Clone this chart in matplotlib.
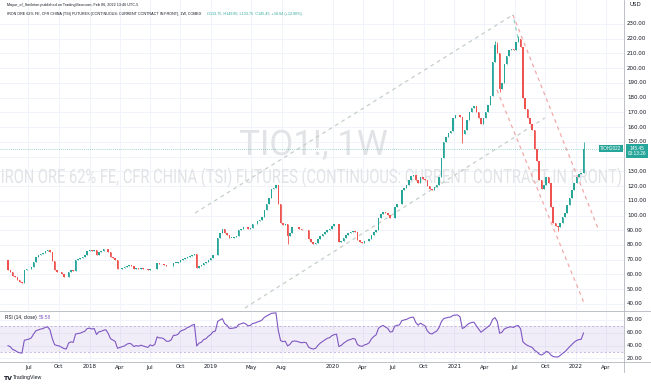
import matplotlib
matplotlib.use('Agg')
import matplotlib.pyplot as plt
import matplotlib.dates as mdates
import matplotlib.transforms as mtransforms
from matplotlib.textpath import TextPath
from matplotlib.patches import PathPatch
from matplotlib.font_manager import FontProperties
import numpy as np
import pandas as pd

plt.rcParams['font.family'] = ['DejaVu Sans']

# weekly candles, first week starting 2017-05-01
start = '2017-05-01'
first_open = 70.0
closes = [
    63, 62, 59, 58, 56, 55, 54.5, 63, 63.5, 64, 65, 68.5, 72, 73, 74, 74.5, 76, 76.5, 75, 69,
    63, 62, 61.5, 60, 58.5, 58, 62, 63, 62.5, 70, 70.5, 71, 72, 73, 76, 76.5, 76, 76.5, 73, 75.5,
    76, 77, 77.5, 75.5, 72, 71, 70, 63.5, 64, 64.5, 65, 66, 66.5, 66, 64, 64.5, 64, 64.5, 64, 63.5,
    63, 64, 63.5, 64, 67.5, 67, 67, 66.5, 65.5, 65.5, 66, 68, 68, 68.5, 70, 70.5, 71, 72, 72.5, 73.5,
    74, 64.5, 66, 66.5, 68, 68.5, 70, 71, 73, 73.5, 85, 88, 91, 88, 87, 85, 85, 85.5, 86, 90,
    91, 92.5, 92, 91, 91.5, 94, 94.5, 96, 97, 99, 104, 108, 112, 118, 119, 120.5, 108, 95, 93.5, 94,
    86, 88, 92, 92.5, 92, 91, 90, 90.5, 90, 84, 82, 81, 81.5, 84, 86, 87.5, 89, 90.5, 91, 93,
    94, 94.5, 82, 83, 85, 86.5, 88, 88.5, 89.5, 89, 83.5, 82, 81.5, 82.5, 83, 84, 87, 89, 90.5, 98,
    101, 102.5, 101.5, 100.5, 98, 98.5, 106, 107.5, 108, 117, 119, 120.5, 124, 127, 127.5, 124, 122, 126, 125, 124,
    120, 118, 117.5, 119.5, 121, 126, 139, 150, 153, 156, 157, 166, 168, 168.5, 167, 155, 158, 165, 170, 173,
    174, 170, 166, 162, 166, 170, 175, 181, 204, 216, 210, 186, 190, 203, 208, 212, 213, 212, 218, 220,
    214, 180, 172, 166, 162, 158, 145, 137, 124, 118, 121, 126, 122, 106, 95, 93, 92, 95, 99, 102,
    107, 112, 117, 122, 126, 128, 128.81, 145.45,
]
# a few visible wick extremes (week index -> price)
wick_high = {116: 120, 209: 218.5, 210: 218, 219: 222, 247: 149.85}
wick_low = {120: 81, 195: 149, 211: 184, 236: 89.5}
# closes before the visible window, only used to seed the RSI
rsi_seed = [68, 70, 69, 71, 70, 72, 71, 70, 72, 71, 69, 71, 70, 72, 71, 70]

tick_dates = ['2017-07-01', '2017-10-01', '2018-01-01', '2018-04-01', '2018-07-01', '2018-10-01',
              '2019-01-01', '2019-05-01', '2019-08-01', '2020-01-01', '2020-04-01', '2020-07-01',
              '2020-10-01', '2021-01-01', '2021-04-01', '2021-07-01', '2021-10-01', '2022-01-01',
              '2022-04-01']
tick_labels = ['Jul', 'Oct', '2018', 'Apr', 'Jul', 'Oct', '2019', 'May', 'Aug', '2020', 'Apr', 'Jul',
               'Oct', '2021', 'Apr', 'Jul', 'Oct', '2022', 'Apr']
price_ticks = list(range(40, 240, 10))
rsi_ticks = [80, 60, 40, 20]

# drawings: (dates, prices)
grey_upper = (['2018-11-14', '2021-06-26'], [101.7, 236.1])
grey_lower = (['2019-04-13', '2021-09-30'], [37.3, 166.2])
red_upper = (['2021-06-26', '2022-03-08'], [236.1, 91.6])
red_lower = (['2021-05-09', '2022-01-28'], [185.2, 39.3])
teal_mark = (['2021-07-11', '2021-06-26'], [220.5, 236.1])

UP = '#26a69a'
DOWN = '#ef5350'
TXT = '#131722'
SMALL = 'Liberation Sans'
W, H = 651, 384

dates = pd.date_range(start, periods=len(closes), freq='7D')
x = mdates.date2num(dates)
c = np.array(closes, dtype=float)
o = np.array([first_open] + closes[:-1], dtype=float)
hi = np.maximum(o, c)
lo = np.minimum(o, c)
for k, v in wick_high.items():
    hi[k] = max(hi[k], v)
for k, v in wick_low.items():
    lo[k] = min(lo[k], v)

# RSI 14 (Wilder)
full = np.array(rsi_seed + closes, dtype=float)
d = np.diff(full)
g = np.where(d > 0, d, 0.0)
l = np.where(d < 0, -d, 0.0)
ag = g[:14].mean()
al = l[:14].mean()
rsi_full = [np.nan] * 14
for i in range(14, len(d)):
    ag = (ag * 13 + g[i]) / 14
    al = (al * 13 + l[i]) / 14
    rsi_full.append(100 - 100 / (1 + ag / al) if al > 0 else 100)
rsi = np.array(rsi_full)[-len(closes):]

fig = plt.figure(figsize=(W / 100, H / 100), dpi=100)
ax = fig.add_axes([0, 1 - 310 / H, 624 / W, 310 / H])
rax = fig.add_axes([0, 22 / H, 624 / W, 50 / H])

x0 = mdates.date2num(pd.Timestamp(start))
dpp = 7 / 2.33
for a in (ax, rax):
    a.set_xlim(x0 - 8 * dpp, x0 + 616 * dpp)
    for s in a.spines.values():
        s.set_visible(False)
    a.tick_params(length=0, labelbottom=False, labelleft=False)
    a.set_xticks(mdates.date2num(pd.to_datetime(tick_dates)))
    a.grid(True, color='#f0f3fa', lw=0.7)
    a.set_axisbelow(True)

ax.set_ylim(35.9, 246.2)
ax.set_yticks(price_ticks)
rax.set_ylim(14.4, 92.2)
rax.set_yticks(rsi_ticks)


def watermark(s, left, right, baseline, cap):
    # text squeezed into a pixel box (the chart's watermark font is condensed)
    prop = FontProperties(family='Roboto')
    tp = TextPath((0, 0), s, size=100, prop=prop)
    hcap = TextPath((0, 0), 'H', size=100, prop=prop).get_extents().height
    ext = tp.get_extents()
    sx = (right - left) / ext.width
    sy = cap / hcap
    t = mtransforms.Affine2D().scale(sx, sy).translate(left - ext.x0 * sx, H - baseline)
    p = PathPatch(tp, transform=t, fc='#e1e3e6', ec='none', lw=0, zorder=0.6)
    ax.add_artist(p)


watermark('TIO1!, 1W', 240, 387, 155, 25)
watermark('IRON ORE 62% FE, CFR CHINA (TSI) FUTURES (CONTINUOUS: CURRENT CONTRACT IN FRONT)',
          2, 621, 183, 14)

# drawings
for (dd, pp), col in [(grey_upper, '#c5cfc8'), (grey_lower, '#c5cfc8'),
                      (red_upper, '#f3a9a9'), (red_lower, '#f3a9a9'), (teal_mark, '#8fd3c9')]:
    ax.plot(mdates.date2num(pd.to_datetime(dd)), pp, color=col, lw=0.9, ls=(0, (3, 3)), zorder=1)

# last price line
ax.axhline(c[-1], color=UP, lw=0.6, ls=(0, (1, 1.5)), alpha=0.6, zorder=1)

# candles
cols = np.where(c >= o, UP, DOWN)
ax.vlines(x, lo, hi, colors=cols, lw=0.6, zorder=2)
body = np.maximum(np.abs(c - o), 0.4)
ax.bar(x, body, bottom=np.minimum(o, c), width=4.6, color=cols, lw=0, zorder=3)

# RSI
rax.axhspan(30, 70, color='#7e57c2', alpha=0.1, lw=0)
for lvl in (70, 30):
    rax.axhline(lvl, color='#b39ddb', lw=0.5, ls=(0, (3, 3)))
rax.plot(x, rsi, color='#7e57c2', lw=0.8)
rax.text(5 / 624, 0.86, 'RSI (14, close)', transform=rax.transAxes, fontsize=3.4, color=TXT,
         family=SMALL)
rax.text(39 / 624, 0.86, f'{rsi[-1]:.2f}', transform=rax.transAxes, fontsize=3.4, color='#7e57c2',
         family=SMALL)

# axis lines and labels
fig.add_artist(plt.Line2D([624 / W, 624 / W], [1 - 372 / H, 1], color='#b2b5be', lw=0.6))
fig.add_artist(plt.Line2D([0, 1], [1 - 311 / H, 1 - 311 / H], color='#b2b5be', lw=0.6))
fig.add_artist(plt.Line2D([0, 1], [1 - 362 / H, 1 - 362 / H], color='#b2b5be', lw=0.6))

tr = mtransforms.blended_transform_factory(fig.transFigure, ax.transData)
for p in price_ticks:
    if p == 140:
        continue
    fig.text(627 / W, p, f'{p:.2f}', transform=tr, fontsize=4, color=TXT, va='center')
trr = mtransforms.blended_transform_factory(fig.transFigure, rax.transData)
for p in rsi_ticks:
    fig.text(627 / W, p, f'{p:.2f}', transform=trr, fontsize=4, color=TXT, va='center')
fig.text(630 / W, 1 - 5 / H, 'USD', fontsize=4, color=TXT, va='center')

trx = mtransforms.blended_transform_factory(ax.transData, fig.transFigure)
for dt, lab in zip(tick_dates, tick_labels):
    fig.text(mdates.date2num(pd.Timestamp(dt)), 1 - 367 / H, lab, transform=trx, fontsize=4,
             color=TXT, ha='center', va='center')

# last price labels
fig.text(611 / W, c[-1], 'TIOH2022', transform=tr, fontsize=3.3, color='white', ha='center',
         va='center', family=SMALL, bbox=dict(boxstyle='square,pad=0.3', fc=UP, ec='none'))
fig.text(637 / W, 1 - 151 / H, '145.45\n03:13:26', fontsize=3.4, color='white', ha='center',
         va='center', family=SMALL, linespacing=1.1,
         bbox=dict(boxstyle='square,pad=0.3', fc=UP, ec='none'))

# header
fig.text(7 / W, 1 - 5 / H, 'Mayur_of_Smileton published on TradingView.com, Feb 06, 2022 13:46 UTC-5',
         fontsize=2.7, color=TXT, va='center', family=SMALL)
fig.text(7 / W, 1 - 14 / H,
         'IRON ORE 62% FE, CFR CHINA (TSI) FUTURES (CONTINUOUS: CURRENT CONTRACT IN FRONT), 1W, COMEX',
         fontsize=2.7, color=TXT, va='center', family=SMALL)
fig.text(207 / W, 1 - 14 / H, 'O133.75  H149.85  L133.75  C145.45  +16.64 (+12.90%)',
         fontsize=2.7, color=UP, va='center', family=SMALL)

# footer logo
fig.text(3 / W, 1 - 378 / H, 'TV', fontsize=4.5, fontweight='bold', color=TXT, va='center')
fig.text(13 / W, 1 - 378 / H, 'TradingView', fontsize=3.8, color=TXT, va='center', family=SMALL)

fig.savefig('out.png', dpi=100)
